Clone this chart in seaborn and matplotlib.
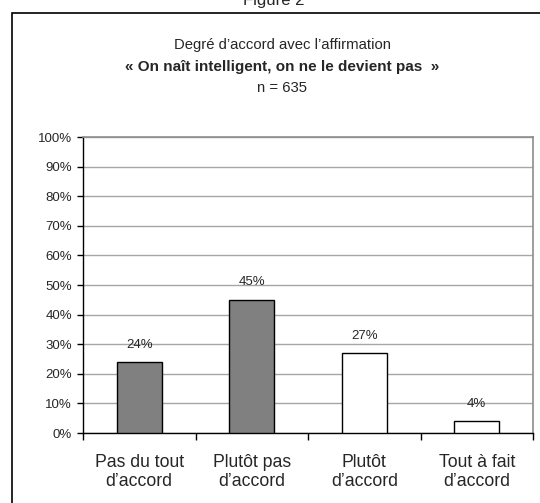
import matplotlib
matplotlib.use("Agg")
import matplotlib.pyplot as plt
from matplotlib.patches import Rectangle
import seaborn as sns
import pandas as pd

categories = ["Pas du tout\nd\u2019accord", "Plut\u00f4t pas\nd\u2019accord",
              "Plut\u00f4t\nd\u2019accord", "Tout \u00e0 fait\nd\u2019accord"]
values = [24, 45, 27, 4]
bar_colors = ["#808080", "#808080", "#ffffff", "#ffffff"]
y_ticks = [0, 10, 20, 30, 40, 50, 60, 70, 80, 90, 100]

sns.set_style("white")
plt.rcParams["font.family"] = ["Liberation Sans", "DejaVu Sans"]

df = pd.DataFrame({"cat": categories, "val": values})

fig = plt.figure(figsize=(5.4, 5.03), dpi=100)
ax = fig.add_axes([83 / 540, 1 - 433 / 503, 450 / 540, 296 / 503])

sns.barplot(data=df, x="cat", y="val", hue="cat", palette=bar_colors,
            legend=False, width=0.4, edgecolor="black", linewidth=1,
            saturation=1, ax=ax, zorder=3)

ax.set_ylim(0, 100)
ax.set_xlim(-0.5, 3.5)
ax.set_yticks(y_ticks)
ax.set_yticklabels([f"{t}%" for t in y_ticks], fontsize=9.5)
ax.yaxis.grid(True, color="#a6a6a6", linewidth=1, zorder=0)
ax.set_axisbelow(True)
ax.set_xlabel("")
ax.set_ylabel("")

# category labels centred, tick marks at the category boundaries
ax.tick_params(axis="x", which="major", length=0, labelsize=12.7, pad=15)
for lbl in ax.get_xticklabels():
    lbl.set_linespacing(1.15)
ax.set_xticks([-0.5, 0.5, 1.5, 2.5, 3.5], minor=True)
ax.tick_params(axis="x", which="minor", length=5, width=1, color="black",
               direction="out", bottom=True)
ax.tick_params(axis="y", length=4, width=1, color="black", direction="out",
               left=True, pad=4)

for side in ["left", "bottom"]:
    ax.spines[side].set_color("black")
    ax.spines[side].set_linewidth(1)
for side in ["top", "right"]:
    ax.spines[side].set_visible(True)
    ax.spines[side].set_color("#8c8c8c")
    ax.spines[side].set_linewidth(1.2)

for i, v in enumerate(values):
    ax.annotate(f"{v}%", (i, v), xytext=(0, 12.5), textcoords="offset points",
                ha="center", va="center", fontsize=9.5)

# titles
fig.text(282 / 540, 1 - 45 / 503, "Degr\u00e9 d\u2019accord avec l\u2019affirmation",
         ha="center", va="center", fontsize=10.7)
fig.text(282 / 540, 1 - 67 / 503,
         "\u00ab On na\u00eet intelligent, on ne le devient pas  \u00bb",
         ha="center", va="center", fontsize=11, fontweight="bold")
fig.text(282 / 540, 1 - 88 / 503, "n = 635", ha="center", va="center", fontsize=10.7)
fig.text(274 / 540, 1 - 5 / 503, "Figure 2", ha="center", va="baseline", fontsize=12)

# frame around the chart
fig.patches.append(Rectangle((11.5 / 540, -0.05), 1.2, 1 - 13 / 503 + 0.05,
                             transform=fig.transFigure, fill=False,
                             edgecolor="black", linewidth=1.2))

fig.savefig("out.png", dpi=100)
